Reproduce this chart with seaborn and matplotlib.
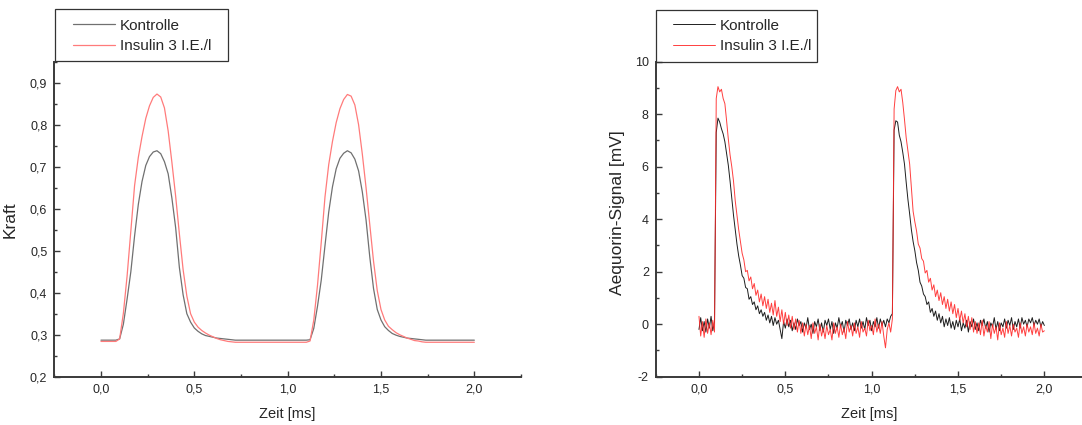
import numpy as np
import matplotlib
matplotlib.use("Agg")
import matplotlib.pyplot as plt
import seaborn as sns
from matplotlib.ticker import MultipleLocator, FuncFormatter
from matplotlib.patches import Rectangle

# ---- data ----
# left panel: force, sampled every 0.02 ms
t_force = np.round(np.arange(0, 2.0001, 0.02), 3)
force_kontrolle = [
    0.287, 0.287, 0.287, 0.287, 0.287, 0.290, 0.325, 0.385, 0.450, 0.535,
    0.610, 0.665, 0.703, 0.724, 0.735, 0.738, 0.731, 0.712, 0.683, 0.625,
    0.555, 0.460, 0.395, 0.350, 0.330, 0.316, 0.308, 0.302, 0.298, 0.296,
    0.294, 0.292, 0.291, 0.290, 0.289, 0.288, 0.287, 0.287, 0.287, 0.287,
    0.287, 0.287, 0.287, 0.287, 0.287, 0.287, 0.287, 0.287, 0.287, 0.287,
    0.287, 0.287, 0.287, 0.287, 0.287, 0.287, 0.288, 0.315, 0.368, 0.430,
    0.512, 0.592, 0.652, 0.695, 0.720, 0.732, 0.738, 0.733, 0.718, 0.690,
    0.640, 0.573, 0.485, 0.410, 0.360, 0.335, 0.319, 0.310, 0.303, 0.299,
    0.296, 0.294, 0.292, 0.291, 0.290, 0.289, 0.288, 0.287, 0.287, 0.287,
    0.287, 0.287, 0.287, 0.287, 0.287, 0.287, 0.287, 0.287, 0.287, 0.287,
    0.287,
]
force_insulin = [
    0.284, 0.284, 0.284, 0.284, 0.284, 0.290, 0.351, 0.440, 0.547, 0.655,
    0.722, 0.772, 0.815, 0.845, 0.865, 0.873, 0.866, 0.840, 0.785, 0.710,
    0.630, 0.540, 0.455, 0.392, 0.350, 0.330, 0.318, 0.310, 0.304, 0.299,
    0.295, 0.291, 0.288, 0.286, 0.284, 0.283, 0.282, 0.282, 0.282, 0.282,
    0.282, 0.282, 0.282, 0.282, 0.282, 0.282, 0.282, 0.282, 0.282, 0.282,
    0.282, 0.282, 0.282, 0.282, 0.282, 0.282, 0.285, 0.335, 0.418, 0.520,
    0.628, 0.705, 0.760, 0.805, 0.838, 0.860, 0.872, 0.868, 0.847, 0.800,
    0.730, 0.650, 0.562, 0.475, 0.405, 0.360, 0.335, 0.320, 0.312, 0.305,
    0.300, 0.296, 0.292, 0.289, 0.286, 0.285, 0.283, 0.282, 0.282, 0.282,
    0.282, 0.282, 0.282, 0.282, 0.282, 0.282, 0.282, 0.282, 0.282, 0.282,
    0.282,
]

# right panel: aequorin signal, sampled every 0.01 ms
t_signal = np.round(np.arange(0, 2.0001, 0.01), 3)
signal_kontrolle = [
    -0.20, 0.25, -0.25, 0.10, -0.30, 0.20, -0.15, 0.30, -0.25, 0.10,
    7.30, 7.85, 7.70, 7.45, 7.25, 6.95, 6.50, 6.05, 5.45, 4.80,
    4.15, 3.60, 3.05, 2.60, 2.25, 1.85, 1.75, 1.40, 1.35, 0.95,
    1.05, 0.75, 0.85, 0.55, 0.70, 0.40, 0.55, 0.30, 0.45, 0.15,
    0.35, 0.05, 0.30, -0.05, 0.25, 0.00, 0.15, -0.20, -0.55, 0.10,
    -0.15, 0.20, -0.10, 0.15, -0.25, 0.05, -0.20, 0.20, -0.05, 0.10,
    -0.30, 0.05, -0.15, 0.25, -0.20, 0.00, -0.35, 0.10, -0.10, 0.20,
    -0.25, 0.05, -0.30, 0.15, -0.05, 0.20, -0.20, 0.10, -0.35, 0.05,
    -0.15, 0.25, -0.10, 0.10, -0.30, 0.15, -0.05, 0.20, -0.20, 0.05,
    -0.25, 0.15, -0.10, 0.20, -0.15, 0.10, -0.20, 0.25, -0.05, 0.15,
    -0.25, 0.10, -0.10, 0.25, -0.15, 0.20, -0.05, 0.15, -0.10, 0.20,
    0.05, 0.30, 0.40, 7.40, 7.75, 7.70, 7.20, 6.95, 6.55, 6.10,
    5.40, 4.75, 4.20, 3.60, 3.15, 2.80, 2.35, 2.05, 1.60, 1.45,
    1.15, 1.05, 0.75, 0.85, 0.45, 0.60, 0.30, 0.50, 0.15, 0.40,
    0.05, 0.30, -0.10, 0.20, -0.05, 0.25, -0.15, 0.10, -0.20, 0.15,
    -0.10, 0.20, -0.25, 0.05, -0.15, 0.15, -0.30, 0.10, -0.10, 0.20,
    -0.20, 0.05, -0.25, 0.15, -0.05, 0.20, -0.15, 0.10, -0.30, 0.05,
    -0.10, 0.25, -0.20, 0.10, -0.25, 0.05, -0.10, 0.20, -0.15, 0.15,
    -0.05, 0.25, -0.20, 0.10, -0.10, 0.20, -0.15, 0.25, 0.00, 0.15,
    -0.10, 0.20, 0.05, 0.25, -0.05, 0.15, 0.00, 0.20, -0.10, 0.10,
    -0.05,
]
signal_insulin = [
    0.30, -0.45, 0.10, -0.50, 0.20, -0.35, 0.05, -0.40, 0.15, -0.30,
    8.60, 9.05, 8.85, 8.95, 8.60, 8.40, 7.75, 7.05, 6.45, 6.00,
    5.45, 4.70, 4.15, 3.60, 3.15, 2.70, 2.45, 2.00, 2.05, 1.65,
    1.80, 1.35, 1.55, 1.10, 1.30, 0.85, 1.15, 0.70, 1.05, 0.60,
    0.95, 0.45, 0.80, 0.35, 0.90, 0.30, 0.65, 0.10, 0.55, 0.00,
    0.45, -0.05, 0.35, -0.15, 0.30, -0.20, 0.20, -0.30, 0.15, -0.35,
    0.05, -0.45, 0.00, -0.40, -0.05, -0.55, 0.05, -0.35, -0.10, -0.60,
    0.00, -0.45, -0.15, -0.55, -0.05, -0.40, -0.20, -0.60, 0.05, -0.35,
    -0.10, -0.50, 0.00, -0.40, -0.15, -0.55, 0.10, -0.30, -0.05, -0.45,
    0.05, -0.35, -0.10, -0.50, 0.10, -0.30, -0.15, -0.45, 0.15, -0.25,
    -0.05, -0.40, 0.20, -0.30, 0.00, -0.35, 0.10, -0.45, -0.90, -0.20,
    0.05, -0.30, 0.20, 8.20, 8.90, 9.05, 8.85, 8.95, 8.45, 7.80,
    7.10, 6.60, 6.10, 5.20, 4.30, 3.90, 3.55, 3.05, 2.90, 2.50,
    2.40, 1.95, 2.05, 1.60, 1.75, 1.30, 1.50, 1.05, 1.30, 0.90,
    1.20, 0.75, 1.05, 0.60, 0.95, 0.50, 0.85, 0.40, 0.75, 0.25,
    0.60, 0.15, 0.50, 0.05, 0.40, -0.10, 0.30, -0.20, 0.25, -0.30,
    0.10, -0.35, 0.05, -0.40, 0.15, -0.45, -0.05, -0.30, 0.10, -0.55,
    0.00, -0.35, -0.10, -0.60, 0.05, -0.40, -0.15, -0.50, 0.10, -0.35,
    -0.05, -0.45, 0.00, -0.30, -0.15, -0.50, 0.05, -0.35, -0.10, -0.45,
    0.00, -0.30, -0.10, -0.40, 0.05, -0.35, -0.15, -0.45, 0.00, -0.30,
    -0.25,
]

labels = ["Kontrolle", "Insulin 3 I.E./l"]

# ---- style ----
sns.set_style("white")
plt.rcParams["font.family"] = ["Liberation Sans", "DejaVu Sans"]
axis_col = "#3a3a3a"

W, H = 1082, 425
fig = plt.figure(figsize=(W / 100, H / 100), dpi=100)
ax1 = fig.add_axes([54.3 / W, (H - 376.7) / H, (521 - 54.3) / W, 315 / H])
ax2 = fig.add_axes([655.8 / W, (H - 376.7) / H, (1082 - 655.8) / W, 315 / H])

sns.lineplot(x=t_force, y=force_kontrolle, ax=ax1, color="#707070", lw=0.9, label=labels[0])
sns.lineplot(x=t_force, y=force_insulin, ax=ax1, color="#ff7b7b", lw=0.9, label=labels[1])

sns.lineplot(x=t_signal, y=signal_kontrolle, ax=ax2, color="#1e1e1e", lw=0.7, label=labels[0])
sns.lineplot(x=t_signal, y=signal_insulin, ax=ax2, color="#ff2a2a", lw=0.7, alpha=0.9, label=labels[1])

comma = FuncFormatter(lambda v, p: f"{v:.1f}".replace(".", ","))

# legend boxes (frame drawn separately: wide side padding, tight top/bottom)
boxes = {ax1: (55, 9.3, 228, 61), ax2: (656, 10, 817, 61.7)}
handle_x = {ax1: 72.5, ax2: 672.5}

for ax in (ax1, ax2):
    for side in ("top", "right"):
        ax.spines[side].set_visible(False)
    for side in ("left", "bottom"):
        ax.spines[side].set_color(axis_col)
        ax.spines[side].set_linewidth(1.4)
    ax.xaxis.set_major_locator(MultipleLocator(0.5))
    ax.xaxis.set_minor_locator(MultipleLocator(0.25))
    ax.xaxis.set_major_formatter(comma)
    ax.tick_params(which="major", direction="in", length=4.5, width=1, color=axis_col,
                   labelsize=9, pad=5, bottom=True, left=True)
    ax.tick_params(which="minor", direction="in", length=2.5, width=1, color=axis_col,
                   bottom=True, left=True)
    ax.set_xlabel("Zeit [ms]", fontsize=10.5)
    ax.xaxis.set_label_coords(0.5, -0.095)

    x0, y0, x1, y1 = boxes[ax]
    fig.patches.append(Rectangle((x0 / W, 1 - y1 / H), (x1 - x0) / W, (y1 - y0) / H,
                                 transform=fig.transFigure, fill=False,
                                 ec="#333333", lw=0.9))
    ax.legend(loc="upper left", bbox_to_anchor=(handle_x[ax] / W, 1 - 18.5 / H),
              bbox_transform=fig.transFigure, borderaxespad=0, borderpad=0,
              frameon=False, fontsize=11, handlelength=2.8, handletextpad=0.3,
              labelspacing=0.42)

ax1.set_xlim(-0.25, 2.25)
ax1.set_ylim(0.2, 0.95)
ax1.yaxis.set_major_locator(MultipleLocator(0.1))
ax1.yaxis.set_minor_locator(MultipleLocator(0.05))
ax1.yaxis.set_major_formatter(comma)
ax1.set_ylabel("Kraft", fontsize=12.5)
ax1.yaxis.set_label_coords(-0.078, 0.5)

ax2.set_xlim(-0.25, 2.218)
ax2.set_ylim(-2, 10)
ax2.yaxis.set_major_locator(MultipleLocator(2))
ax2.yaxis.set_minor_locator(MultipleLocator(1))
ax2.yaxis.set_major_formatter(FuncFormatter(lambda v, p: f"{int(round(v))}"))
ax2.set_ylabel("Aequorin-Signal [mV]", fontsize=12.5)
ax2.yaxis.set_label_coords(-0.072, 0.52)

fig.savefig("out.png", dpi=100)
